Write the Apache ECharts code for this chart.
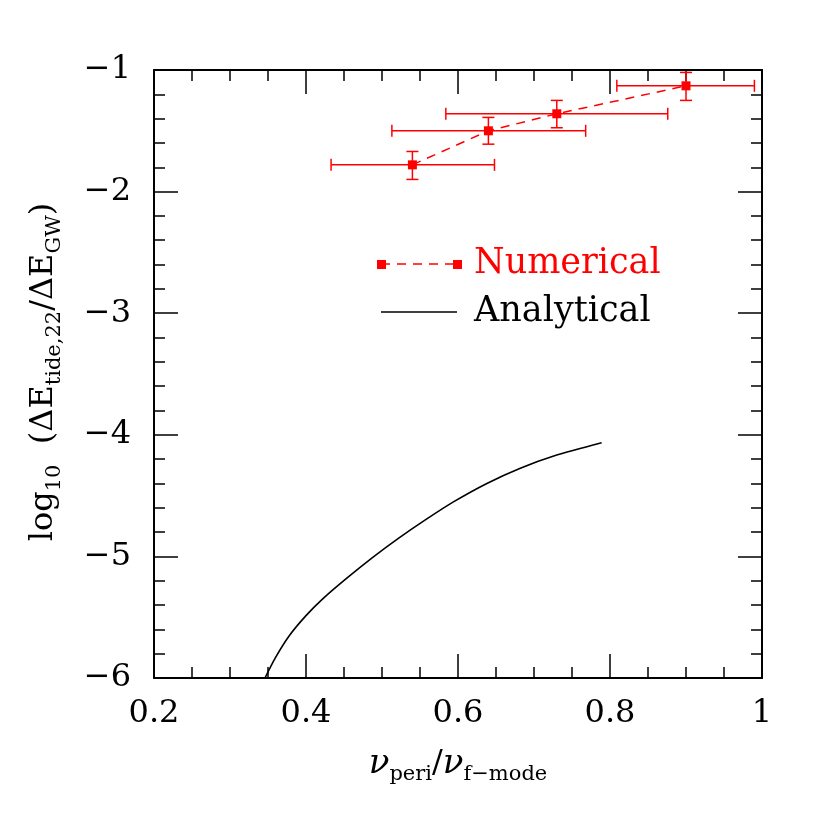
<!DOCTYPE html>
<html>
<head>
<meta charset="utf-8">
<script src="https://cdn.jsdelivr.net/npm/echarts@6/dist/echarts.min.js"></script>
<style>
html, body { margin: 0; padding: 0; background: #fff; }
#chart { width: 830px; height: 830px; }
</style>
</head>
<body>
<div id="chart"></div>
<script>
// numerical points with their error bars
var numX     = [0.54, 0.64, 0.73, 0.90];
var numY     = [-1.78, -1.50, -1.36, -1.13];
var numXLow  = [0.433, 0.513, 0.584, 0.809];
var numXHigh = [0.648, 0.768, 0.876, 0.990];
var numYLow  = [-1.90, -1.61, -1.475, -1.25];
var numYHigh = [-1.67, -1.39, -1.25, -1.02];

// analytical curve
var anaX = [0.346, 0.360, 0.378, 0.400, 0.422, 0.4525, 0.487, 0.522, 0.557, 0.5945, 0.638, 0.682, 0.726, 0.789];
var anaY = [-6.00, -5.83, -5.652, -5.487, -5.349, -5.185, -5.012, -4.85, -4.70, -4.55, -4.40, -4.275, -4.175, -4.066];

var xRange = [0.2, 1.0];
var yRange = [-6, -1];

var FONT = 'DejaVu Serif';
var RED = '#ff0000';

function pairs(xs, ys) {
	return xs.map(function(x, i) { return [x, ys[i]]; });
}

function valueAxis(opt) {
	return {
		type: 'value',
		min: opt.min,
		max: opt.max,
		interval: opt.interval,
		position: opt.position,
		axisLine: { show: true, onZero: false, lineStyle: { color: '#000', width: 2 } },
		axisTick: { show: true, inside: true, length: 24, lineStyle: { color: '#000', width: 1.5 } },
		minorTick: { show: true, splitNumber: opt.minor, length: 11, lineStyle: { color: '#000', width: 1.5 } },
		splitLine: { show: false },
		minorSplitLine: { show: false },
		axisLabel: { show: opt.labels, margin: opt.margin, color: '#000', fontFamily: FONT, fontSize: 32,
			showMinLabel: true, showMaxLabel: true, formatter: opt.formatter }
	};
}

function minusFmt(v) {
	return v < 0 ? '\u2212' + (-v) : String(v);
}

function errorBars(params, api) {
	var cx = api.value(0), cy = api.value(1);
	var l = api.coord([api.value(2), cy]);
	var r = api.coord([api.value(3), cy]);
	var b = api.coord([cx, api.value(4)]);
	var t = api.coord([cx, api.value(5)]);
	var c = 6;
	var st = { stroke: RED, lineWidth: 1.5 };
	function seg(x1, y1, x2, y2) {
		return { type: 'line', shape: { x1: x1, y1: y1, x2: x2, y2: y2 }, style: st };
	}
	return {
		type: 'group',
		children: [
			seg(l[0], l[1], r[0], r[1]),
			seg(l[0], l[1] - c, l[0], l[1] + c),
			seg(r[0], r[1] - c, r[0], r[1] + c),
			seg(b[0], b[1], t[0], t[1]),
			seg(b[0] - c, b[1], b[0] + c, b[1]),
			seg(t[0] - c, t[1], t[0] + c, t[1])
		]
	};
}

var errData = numX.map(function(x, i) {
	return [x, numY[i], numXLow[i], numXHigh[i], numYLow[i], numYHigh[i]];
});

var mainStyle = { fontFamily: FONT, fontSize: 32, lineHeight: 42, verticalAlign: 'middle', fill: '#000' };
var subStyle = { fontFamily: FONT, fontSize: 21, verticalAlign: 'bottom', fill: '#000' };
var nuStyle = { fontFamily: FONT, fontSize: 34, fontStyle: 'italic', lineHeight: 42, verticalAlign: 'middle', fill: '#000' };

var chart = echarts.init(document.getElementById('chart'), null, { renderer: 'canvas' });

chart.setOption({
	animation: false,
	backgroundColor: '#fff',
	grid: { left: 154, right: 68, top: 70, bottom: 152, containLabel: false },
	xAxis: [
		valueAxis({ min: xRange[0], max: xRange[1], interval: 0.2, minor: 4, position: 'bottom', labels: true, margin: 20 }),
		valueAxis({ min: xRange[0], max: xRange[1], interval: 0.2, minor: 4, position: 'top', labels: false })
	],
	yAxis: [
		valueAxis({ min: yRange[0], max: yRange[1], interval: 1, minor: 5, position: 'left', labels: true, margin: 23, formatter: minusFmt }),
		valueAxis({ min: yRange[0], max: yRange[1], interval: 1, minor: 5, position: 'right', labels: false })
	],
	series: [
		{
			name: 'Analytical',
			type: 'line',
			data: pairs(anaX, anaY),
			smooth: 0.3,
			showSymbol: false,
			symbol: 'none',
			lineStyle: { color: '#000', width: 1.6 },
			z: 2
		},
		{
			name: 'errors',
			type: 'custom',
			renderItem: errorBars,
			data: errData,
			encode: { x: 0, y: 1 },
			z: 3
		},
		{
			name: 'Numerical',
			type: 'line',
			data: pairs(numX, numY),
			symbol: 'rect',
			symbolSize: 9,
			itemStyle: { color: RED },
			lineStyle: { color: RED, width: 1.5, type: [9, 7] },
			z: 4
		}
	],
	graphic: [
		// legend
		{ type: 'line', shape: { x1: 381, y1: 264, x2: 457, y2: 264 }, style: { stroke: RED, lineWidth: 1.5, lineDash: [9, 7] } },
		{ type: 'rect', shape: { x: 377, y: 260, width: 9, height: 9 }, style: { fill: RED } },
		{ type: 'rect', shape: { x: 453, y: 260, width: 9, height: 9 }, style: { fill: RED } },
		{ type: 'text', x: 474, y: 264, style: { text: 'Numerical', fontFamily: FONT, fontSize: 35, fill: RED, verticalAlign: 'middle' } },
		{ type: 'line', shape: { x1: 381, y1: 312, x2: 457, y2: 312 }, style: { stroke: '#000', lineWidth: 1.5 } },
		{ type: 'text', x: 474, y: 312, style: { text: 'Analytical', fontFamily: FONT, fontSize: 35, fill: '#000', verticalAlign: 'middle' } },
		// axis titles
		{
			type: 'text', x: 44, y: 372, rotation: Math.PI / 2,
			style: {
				text: '{m|log}{s|10}{m|  (\u0394E}{s|tide,22}{m|/\u0394E}{s|GW}{m|)}',
				align: 'center', verticalAlign: 'middle',
				rich: { m: mainStyle, s: subStyle }
			}
		},
		{
			type: 'text', x: 458, y: 764,
			style: {
				text: '{n|\u03bd}{s|peri}{m|/}{n|\u03bd}{s|f\u2212mode}',
				align: 'center', verticalAlign: 'middle',
				rich: { m: mainStyle, s: subStyle, n: nuStyle }
			}
		}
	]
});
</script>
</body>
</html>
